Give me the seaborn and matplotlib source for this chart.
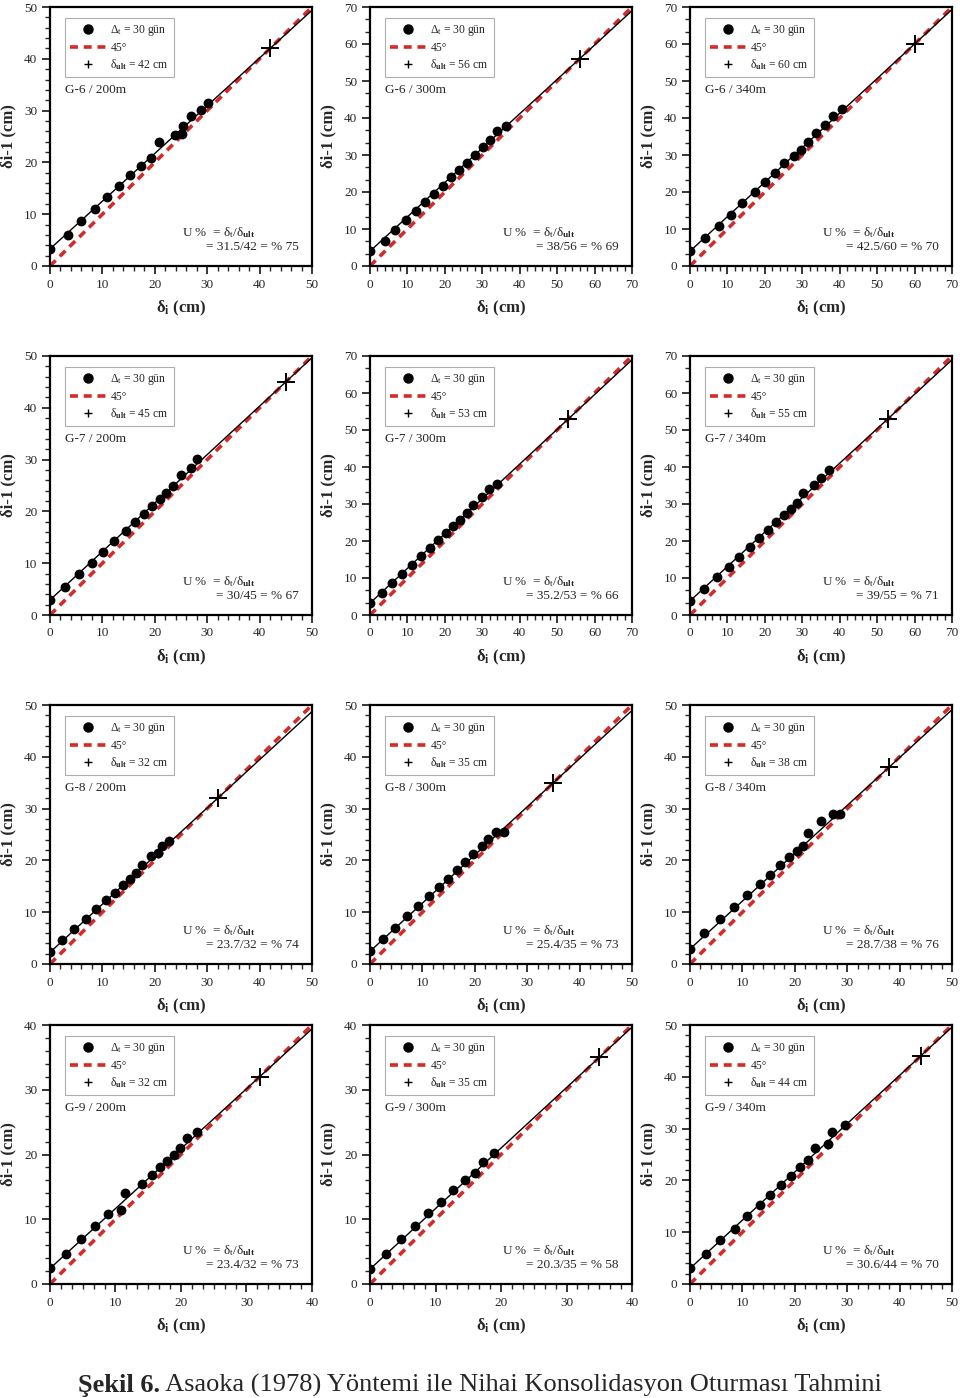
import numpy as np
import pandas as pd
import matplotlib
matplotlib.use("Agg")
import matplotlib.pyplot as plt
from matplotlib.lines import Line2D
from matplotlib.ticker import MultipleLocator
import seaborn as sns

# ---------------- data ----------------
panel_names = ["G-6 / 200m", "G-6 / 300m", "G-6 / 340m",
               "G-7 / 200m", "G-7 / 300m", "G-7 / 340m",
               "G-8 / 200m", "G-8 / 300m", "G-8 / 340m",
               "G-9 / 200m", "G-9 / 300m", "G-9 / 340m"]
axis_max = [50, 70, 70, 50, 70, 70, 50, 50, 50, 40, 40, 50]
delta_ult = [42, 56, 60, 45, 53, 55, 32, 35, 38, 32, 35, 44]
cross_pos = [42, 56, 60, 45, 53, 53, 32, 35, 38, 32, 35, 44]
intercepts = [3.3, 4.0, 4.0, 2.9, 3.2, 3.8, 2.25, 2.45, 2.9, 2.4, 2.3, 3.0]
u_texts = ["= 31.5/42 = % 75", "= 38/56 = % 69", "= 42.5/60 = % 70",
           "= 30/45 = % 67", "= 35.2/53 = % 66", "= 39/55 = % 71",
           "= 23.7/32 = % 74", "= 25.4/35 = % 73", "= 28.7/38 = % 76",
           "= 23.4/32 = % 73", "= 20.3/35 = % 58", "= 30.6/44 = % 70"]

g6_200_x = [0, 3.4, 5.9, 8.6, 10.9, 13.2, 15.3, 17.4, 19.2, 20.8, 23.8, 25.1, 25.4, 26.9, 28.9, 30.2]
g6_200_y = [3.3, 6.0, 8.7, 11.0, 13.3, 15.4, 17.5, 19.3, 20.9, 23.9, 25.2, 25.5, 27.0, 29.0, 30.2, 31.4]
g6_300_x = [0, 3.9, 6.7, 9.6, 12.3, 14.8, 17.2, 19.6, 21.7, 23.9, 26.0, 28.0, 30.1, 32.0, 34.0, 36.3]
g6_300_y = [4.0, 6.8, 9.6, 12.3, 14.8, 17.2, 19.5, 21.7, 24.0, 26.0, 27.9, 30.0, 32.1, 34.1, 36.4, 37.9]
g6_340_x = [0, 4.1, 7.7, 11.0, 14.0, 17.3, 20.1, 22.7, 25.1, 27.9, 29.7, 31.4, 33.6, 36.1, 38.2, 40.6]
g6_340_y = [4.0, 7.5, 10.9, 13.9, 17.1, 19.9, 22.6, 25.1, 27.8, 29.6, 31.4, 33.4, 35.9, 38.1, 40.5, 42.4]
g7_200_x = [0, 2.9, 5.5, 8.0, 10.1, 12.3, 14.5, 16.3, 18.0, 19.5, 21.0, 22.2, 23.5, 25.0, 27.0, 28.1]
g7_200_y = [2.9, 5.5, 7.9, 10.1, 12.2, 14.3, 16.2, 18.0, 19.5, 21.1, 22.3, 23.6, 25.0, 27.1, 28.3, 30.1]
g7_300_x = [0, 3.2, 6.0, 8.5, 11.1, 13.5, 16.0, 18.1, 20.3, 22.2, 24.0, 25.8, 27.6, 29.9, 31.9, 33.9]
g7_300_y = [3.2, 5.9, 8.6, 11.1, 13.4, 15.9, 18.1, 20.2, 22.2, 24.0, 25.8, 27.5, 29.7, 31.8, 34.0, 35.3]
g7_340_x = [0, 3.7, 7.2, 10.3, 13.1, 15.9, 18.5, 20.9, 23.0, 25.0, 27.0, 28.7, 30.3, 33.0, 35.1, 37.2]
g7_340_y = [3.8, 7.1, 10.2, 13.0, 15.8, 18.5, 20.8, 23.1, 25.2, 27.0, 28.7, 30.3, 33.1, 35.1, 37.1, 39.2]
g8_200_x = [0, 2.3, 4.5, 6.8, 8.8, 10.6, 12.5, 13.9, 15.3, 16.4, 17.5, 19.2, 20.7, 21.4, 22.7]
g8_200_y = [2.25, 4.6, 6.8, 8.75, 10.6, 12.4, 13.8, 15.3, 16.4, 17.6, 19.2, 20.8, 21.4, 22.8, 23.7]
g8_300_x = [0, 2.4, 4.7, 7.0, 9.2, 11.2, 13.1, 14.9, 16.6, 18.1, 19.7, 21.3, 22.6, 24.1, 25.5]
g8_300_y = [2.45, 4.8, 7.0, 9.2, 11.2, 13.1, 14.8, 16.5, 18.2, 19.7, 21.2, 22.7, 24.1, 25.5, 25.4]
g8_340_x = [0, 2.75, 5.8, 8.45, 10.9, 13.3, 15.3, 17.2, 18.9, 20.4, 21.5, 22.5, 25.0, 27.3, 28.7]
g8_340_y = [2.9, 5.9, 8.6, 11.1, 13.3, 15.4, 17.2, 19.1, 20.7, 21.8, 22.7, 25.2, 27.6, 29.0, 29.0]
g9_200_x = [0, 2.4, 4.7, 6.9, 8.9, 10.8, 11.5, 14.1, 15.6, 16.8, 17.9, 18.9, 19.9, 20.9, 22.4]
g9_200_y = [2.4, 4.7, 6.9, 8.9, 10.8, 11.5, 14.1, 15.5, 16.8, 18.0, 19.0, 20.0, 21.0, 22.5, 23.4]
g9_300_x = [0, 2.4, 4.7, 6.9, 8.9, 10.9, 12.7, 14.5, 16.1, 17.2, 18.9]
g9_300_y = [2.3, 4.7, 6.9, 8.9, 10.9, 12.7, 14.5, 16.1, 17.1, 18.9, 20.2]
g9_340_x = [0, 3.0, 5.8, 8.5, 10.8, 13.3, 15.3, 17.3, 19.3, 20.9, 22.5, 23.9, 26.3, 27.1, 29.5]
g9_340_y = [3.0, 5.7, 8.4, 10.7, 13.1, 15.3, 17.2, 19.2, 20.9, 22.6, 23.9, 26.3, 27.0, 29.4, 30.6]

xs = [g6_200_x, g6_300_x, g6_340_x, g7_200_x, g7_300_x, g7_340_x,
      g8_200_x, g8_300_x, g8_340_x, g9_200_x, g9_300_x, g9_340_x]
ys = [g6_200_y, g6_300_y, g6_340_y, g7_200_y, g7_300_y, g7_340_y,
      g8_200_y, g8_300_y, g8_340_y, g9_200_y, g9_300_y, g9_340_y]

caption_bold = "Şekil 6."
caption_rest = " Asaoka (1978) Yöntemi ile Nihai Konsolidasyon Oturması Tahmini"

# ---------------- style ----------------
sns.set_style("ticks")
plt.rcParams["font.family"] = ["Liberation Serif", "DejaVu Serif"]
plt.rcParams["mathtext.fontset"] = "custom"
plt.rcParams["mathtext.rm"] = "Liberation Serif"
plt.rcParams["mathtext.it"] = "Liberation Serif:italic"
plt.rcParams["mathtext.bf"] = "Liberation Serif:bold"

W, H = 960, 1398
fig = plt.figure(figsize=(W / 100, H / 100), dpi=100)
fig.patch.set_facecolor("white")

col_left = [50, 370, 690]
row_top = [7, 356, 705, 1025]
ax_w, ax_h = 262, 259
RED = "#d42a2a"

for i in range(12):
    r, c = divmod(i, 3)
    left = col_left[c] / W
    bottom = 1 - (row_top[r] + ax_h) / H
    ax = fig.add_axes([left, bottom, ax_w / W, ax_h / H])
    m = axis_max[i]
    ax.set_xlim(0, m)
    ax.set_ylim(0, m)

    # 45 degree line
    ax.plot([0, m], [0, m], color=RED, lw=2.6, ls=(0, (2.2, 1.6)), zorder=2)
    # Asaoka fitted line
    b = intercepts[i]
    a = 1 - b / delta_ult[i]
    xl = np.array([0, m])
    ax.plot(xl, b + a * xl, color="black", lw=1.0, zorder=3)

    df = pd.DataFrame({"x": xs[i], "y": ys[i]})
    sns.scatterplot(data=df, x="x", y="y", ax=ax, color="black", s=50,
                    edgecolor="black", linewidth=0, zorder=4, legend=False)
    ax.plot([cross_pos[i]], [cross_pos[i]], marker="+", color="black",
            markersize=13, mew=1.4, ls="None", zorder=5)

    for sp in ax.spines.values():
        sp.set_linewidth(1.6)
        sp.set_color("black")

    ax.xaxis.set_major_locator(MultipleLocator(10))
    ax.yaxis.set_major_locator(MultipleLocator(10))
    ax.xaxis.set_minor_locator(MultipleLocator(10 / 6 if m == 40 else 2))
    ax.yaxis.set_minor_locator(MultipleLocator(10 / 3 if m == 70 else 2))
    ax.tick_params(which="major", direction="out", length=6, width=1.3,
                   labelsize=9.5, top=False, right=False, pad=3)
    ax.tick_params(which="minor", direction="out", length=3.5, width=1.0,
                   top=False, right=False)

    ax.set_xlabel(r"δ$_{\mathbf{i}}$ (cm)", fontsize=12, fontweight="bold")
    ax.set_ylabel("δi-1 (cm)", fontsize=12, fontweight="bold")
    ax.xaxis.set_label_coords(0.5, -0.125)
    ax.yaxis.set_label_coords(-0.128, 0.5)

    handles = [
        Line2D([], [], marker="o", color="black", ls="None", markersize=6.5),
        Line2D([], [], color=RED, lw=2.6, ls=(0, (2.2, 1.6))),
        Line2D([], [], marker="+", color="black", ls="None", markersize=6, mew=1.0),
    ]
    labels = [r"Δ$_{\mathrm{t}}$ = 30 gün", "45°",
              r"δ$_{\mathbf{ult}}$ = " + f"{delta_ult[i]} cm"]
    leg = ax.legend(handles, labels, loc="upper left",
                    bbox_to_anchor=(0.057, 0.957), fontsize=8.4,
                    frameon=True, fancybox=False, edgecolor="#999999",
                    handlelength=3.1, handletextpad=0.35, labelspacing=0.3,
                    borderpad=0.45, borderaxespad=0)
    leg.get_frame().set_linewidth(0.8)

    ax.text(0.057, 0.68, panel_names[i], transform=ax.transAxes,
            fontsize=9.5, ha="left", va="center")
    ax.text(0.505, 0.13, r"U %  = δ$_{\mathrm{t}}$/δ$_{\mathbf{ult}}$",
            transform=ax.transAxes, fontsize=9.5, ha="left", va="center")
    ax.text(0.95, 0.075, u_texts[i], transform=ax.transAxes,
            fontsize=9.5, ha="right", va="center")

# caption: bold + regular parts, scaled to span the reference width
renderer = fig.canvas.get_renderer()
fs = 18
t1 = fig.text(78 / W, 1 - 1392 / H, caption_bold, fontsize=fs,
              fontweight="bold", ha="left", va="baseline")
t2 = fig.text(0, 1 - 1392 / H, caption_rest, fontsize=fs,
              ha="left", va="baseline")
w1 = t1.get_window_extent(renderer).width
w2 = t2.get_window_extent(renderer).width
scale = (880 - 78) / (w1 + w2)
fs2 = fs * scale
t1.set_fontsize(fs2)
t2.set_fontsize(fs2)
w1 = t1.get_window_extent(renderer).width
t2.set_x((78 + w1) / W)

fig.savefig("out.png", dpi=100, facecolor="white")
